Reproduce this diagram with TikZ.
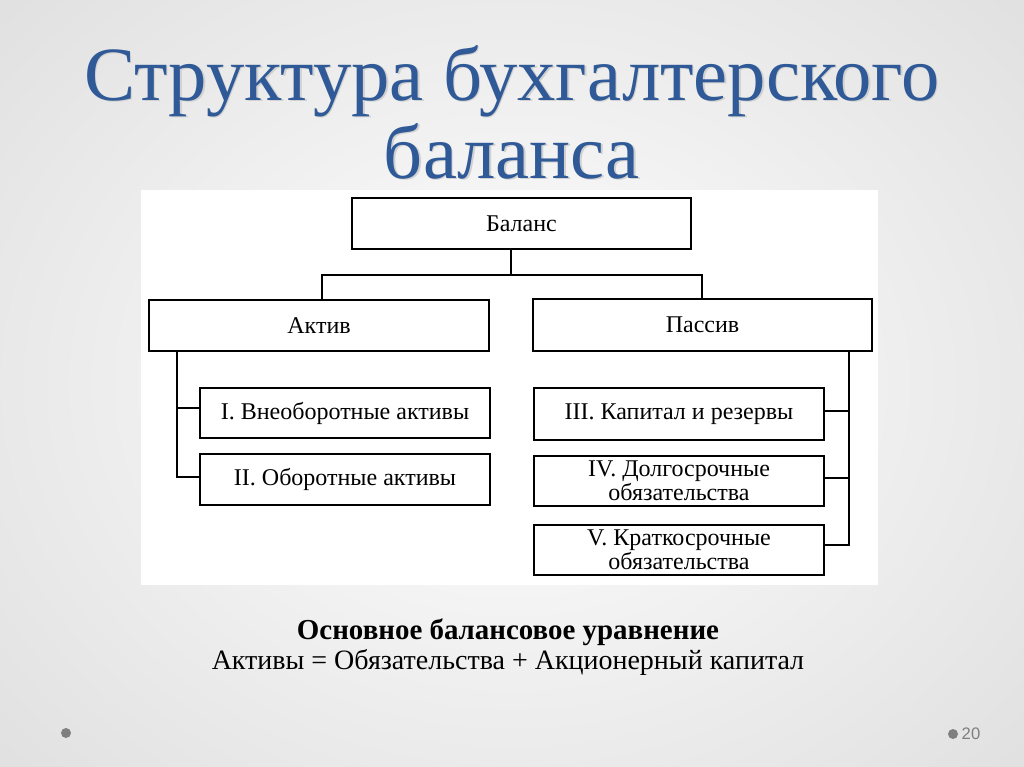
\documentclass[tikz,border=0pt]{standalone}
\usepackage{fontspec}
\setmainfont{Liberation Serif}
\newfontfamily\numfont{Liberation Sans}
\definecolor{titleblue}{HTML}{2F5A97}
\definecolor{bgedge}{HTML}{D6D6D6}
\definecolor{dotgray}{HTML}{7F7F7F}
\tikzset{
  box/.style={draw=black, line width=1.3pt, fill=white, inner sep=0pt},
  link/.style={draw=black, line width=1.3pt},
  boxtext/.style={font=\fontsize{18}{16.5}\selectfont, align=center},
  titletext/.style={font=\rmfamily\fontsize{57.5}{60}\selectfont, anchor=base, inner sep=0pt},
}
\begin{document}
\begin{tikzpicture}[x=0.75pt,y=-0.75pt]
\useasboundingbox (0,0) rectangle (1024,767);
% background
\begin{scope}
\clip (0,0) rectangle (1024,767);
\shade[inner color=white, outer color=bgedge] (-420,-380) rectangle (1444,1147);
\end{scope}
% title shadow + title
\node[titletext, text=black!18] at (513.5,101.5) {Структура бухгалтерского};
\node[titletext, text=black!18] at (513.5,179.5) {баланса};
\node[titletext, text=titleblue] (title1) at (512,100) {Структура бухгалтерского};
\node[titletext, text=titleblue] (title2) at (512,178) {баланса};
% white panel
\fill[white] (141,190) rectangle (878,585);
% boxes
\draw[box] (352,198) rectangle (691,249);
\node[boxtext] (bal) at (521.5,223.5) {Баланс};
\draw[box] (149,300) rectangle (489,351);
\node[boxtext] (akt) at (319,325.5) {Актив};
\draw[box] (533,299) rectangle (872,351);
\node[boxtext] (pas) at (702.5,325) {Пассив};
\draw[box] (200,388) rectangle (490,438);
\node[boxtext] (b1) at (345,413) {I. Внеоборотные активы};
\draw[box] (200,454) rectangle (490,505);
\node[boxtext] (b2) at (345,479.5) {II. Оборотные активы};
\draw[box] (534,388) rectangle (824,440);
\node[boxtext] (b3) at (679,414) {III. Капитал и резервы};
\draw[box] (534,456) rectangle (824,506);
\node[boxtext] (b4) at (679,481) {IV. Долгосрочные\\обязательства};
\draw[box] (534,525) rectangle (824,575);
\node[boxtext] (b5) at (679,550) {V. Краткосрочные\\обязательства};
% connector coordinates
\coordinate (balB) at (511,249);
\coordinate (jL) at (322,275);
\coordinate (jR) at (702,275);
\coordinate (aktT) at (322,300);
\coordinate (pasT) at (702,299);
\coordinate (aktB) at (177,351);
\coordinate (pasB) at (849,351);
\coordinate (b1L) at (200,408);
\coordinate (b2L) at (200,477);
\coordinate (b3R) at (824,411);
\coordinate (b4R) at (824,478);
\coordinate (b5R) at (824,545);
\draw[link] (balB) -- (511,275);
\draw[link] (aktT) -- (jL) -- (jR) -- (pasT);
\draw[link] (aktB) |- (b2L);
\draw[link] (177,408) -- (b1L);
\draw[link] (pasB) |- (b5R);
\draw[link] (849,411) -- (b3R);
\draw[link] (849,478) -- (b4R);
% equation
\node[font=\bfseries\fontsize{21.7}{24}\selectfont] (eqh) at (508,632) {Основное балансовое уравнение};
\node[font=\fontsize{21}{24}\selectfont] (eq) at (508,662) {Активы = Обязательства + Акционерный капитал};
% footer
\fill[dotgray] (66,733) circle (5);
\fill[dotgray] (953,734) circle (5);
\node[text=dotgray, font=\numfont\fontsize{12.5}{14}\selectfont] (pg) at (971,734) {20};
\end{tikzpicture}
\end{document}
